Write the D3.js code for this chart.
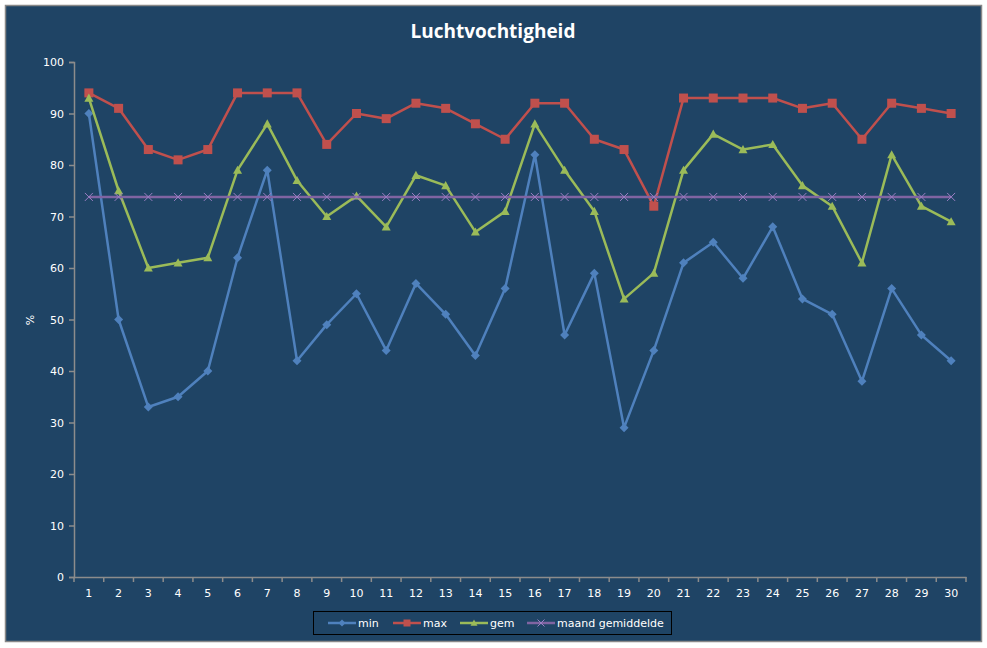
<!DOCTYPE html>
<html>
<head>
<meta charset="utf-8">
<script src="https://cdn.jsdelivr.net/npm/d3@7"></script>
<style>
  body { margin: 0; background: #fff; }
  svg text { font-family: "DejaVu Sans", Verdana, sans-serif; }
</style>
</head>
<body>
<svg id="chart"></svg>
<script>
// Data (day of the month, humidity in %)
const days = d3.range(1, 31);
const minValues = [90, 50, 33, 35, 40, 62, 79, 42, 49, 55, 44, 57, 51, 43, 56, 82, 47, 59, 29, 44, 61, 65, 58, 68, 54, 51, 38, 56, 47, 42];
const maxValues = [94, 91, 83, 81, 83, 94, 94, 94, 84, 90, 89, 92, 91, 88, 85, 92, 92, 85, 83, 72, 93, 93, 93, 93, 91, 92, 85, 92, 91, 90];
const gemValues = [93, 75, 60, 61, 62, 79, 88, 77, 70, 74, 68, 78, 76, 67, 71, 88, 79, 71, 54, 59, 79, 86, 83, 84, 76, 72, 61, 82, 72, 69];
const maandValues = [73.8, 73.8, 73.8, 73.8, 73.8, 73.8, 73.8, 73.8, 73.8, 73.8, 73.8, 73.8, 73.8, 73.8, 73.8,
                     73.8, 73.8, 73.8, 73.8, 73.8, 73.8, 73.8, 73.8, 73.8, 73.8, 73.8, 73.8, 73.8, 73.8, 73.8];
const yTicks = [0, 10, 20, 30, 40, 50, 60, 70, 80, 90, 100];

const series = [
  { name: "min", values: minValues, color: "#4F81BD", marker: "diamond" },
  { name: "max", values: maxValues, color: "#C0504D", marker: "square" },
  { name: "gem", values: gemValues, color: "#9BBB59", marker: "triangle" },
  { name: "maand gemiddelde", values: maandValues, color: "#8064A2", marker: "cross" }
];

const width = 987, height = 648;
const bg = "#1F4465";
const axisColor = "#8C8C8C";

const svg = d3.select("#chart").attr("width", width).attr("height", height);

// chart frame
svg.append("rect")
  .attr("x", 5.5).attr("y", 5.5)
  .attr("width", 976).attr("height", 636)
  .attr("fill", bg)
  .attr("stroke", "#888").attr("stroke-width", 1.5);

const plot = { left: 74, right: 966, top: 62, bottom: 577 };

const x = d3.scaleBand().domain(days).range([plot.left, plot.right]);
const y = d3.scaleLinear().domain([0, 100]).range([plot.bottom, plot.top]);

// title
svg.append("text")
  .attr("x", 493).attr("y", 38)
  .attr("text-anchor", "middle")
  .attr("fill", "#fff")
  .style("font-family", "'Open Sans', sans-serif")
  .style("font-size", "19px")
  .style("font-weight", "bold")
  .text("Luchtvochtigheid");

// y axis
const yAxis = svg.append("g")
  .attr("transform", `translate(${plot.left},0)`)
  .call(d3.axisLeft(y).tickValues(yTicks).tickSize(5).tickPadding(5));
yAxis.select(".domain").attr("stroke", axisColor).attr("stroke-width", 1.5);
yAxis.selectAll(".tick line").attr("stroke", axisColor).attr("stroke-width", 1.5);
yAxis.selectAll(".tick text").attr("fill", "#fff").style("font-size", "11px");

svg.append("text")
  .attr("transform", "translate(34,320) rotate(-90)")
  .attr("text-anchor", "middle")
  .attr("fill", "#fff")
  .style("font-size", "11px")
  .text("%");

// x axis (ticks between categories)
const xAxis = svg.append("g")
  .attr("transform", `translate(0,${plot.bottom})`)
  .call(d3.axisBottom(x).tickSize(0).tickPadding(12));
xAxis.select(".domain").attr("stroke", axisColor).attr("stroke-width", 1.5);
xAxis.selectAll(".tick text").attr("fill", "#fff").style("font-size", "11px");
xAxis.selectAll(".sep")
  .data(days.concat([31]))
  .join("line")
  .attr("class", "sep")
  .attr("x1", d => d <= 30 ? x(d) : plot.right)
  .attr("x2", d => d <= 30 ? x(d) : plot.right)
  .attr("y1", 0).attr("y2", 5)
  .attr("stroke", axisColor).attr("stroke-width", 1.5);

const cx = d => x(d) + x.bandwidth() / 2;

function drawMarker(g, type, color, size) {
  const s = size / 2;
  if (type === "square") {
    g.append("rect").attr("x", -s).attr("y", -s)
      .attr("width", size).attr("height", size).attr("fill", color);
  } else if (type === "diamond") {
    g.append("path").attr("d", `M0,${-s}L${s},0L0,${s}L${-s},0Z`).attr("fill", color);
  } else if (type === "triangle") {
    g.append("path").attr("d", `M0,${-s}L${s},${s * 0.8}L${-s},${s * 0.8}Z`).attr("fill", color);
  } else if (type === "cross") {
    g.append("path").attr("d", `M${-s},${-s}L${s},${s}M${-s},${s}L${s},${-s}`)
      .attr("stroke", "#9B7FC4").attr("stroke-width", 1).attr("fill", "none");
  }
}

const markerSize = { square: 9, diamond: 9, triangle: 9, cross: 8 };

const line = d3.line().x((d, i) => cx(days[i])).y(d => y(d));

series.forEach(s => {
  const g = svg.append("g");
  g.append("path")
    .datum(s.values)
    .attr("d", line)
    .attr("fill", "none")
    .attr("stroke", s.color)
    .attr("stroke-width", 2.5)
    .attr("stroke-linejoin", "round");
  s.values.forEach((v, i) => {
    const m = g.append("g").attr("transform", `translate(${cx(days[i])},${y(v)})`);
    drawMarker(m, s.marker, s.color, markerSize[s.marker]);
  });
});

// legend
const legend = svg.append("g");
legend.append("rect")
  .attr("x", 313.5).attr("y", 611.5)
  .attr("width", 358).attr("height", 23)
  .attr("fill", "none").attr("stroke", "#000").attr("stroke-width", 1);

const legendX = [328, 393, 460, 527];
series.forEach((s, i) => {
  const lg = legend.append("g").attr("transform", `translate(${legendX[i]},623)`);
  lg.append("line").attr("x1", 0).attr("x2", 28).attr("y1", 0).attr("y2", 0)
    .attr("stroke", s.color).attr("stroke-width", 2.5);
  const m = lg.append("g").attr("transform", "translate(14,0)");
  drawMarker(m, s.marker, s.color, 7);
  lg.append("text").attr("x", 30).attr("y", 4)
    .attr("fill", "#fff").style("font-size", "11px")
    .text(s.name);
});
</script>
</body>
</html>
